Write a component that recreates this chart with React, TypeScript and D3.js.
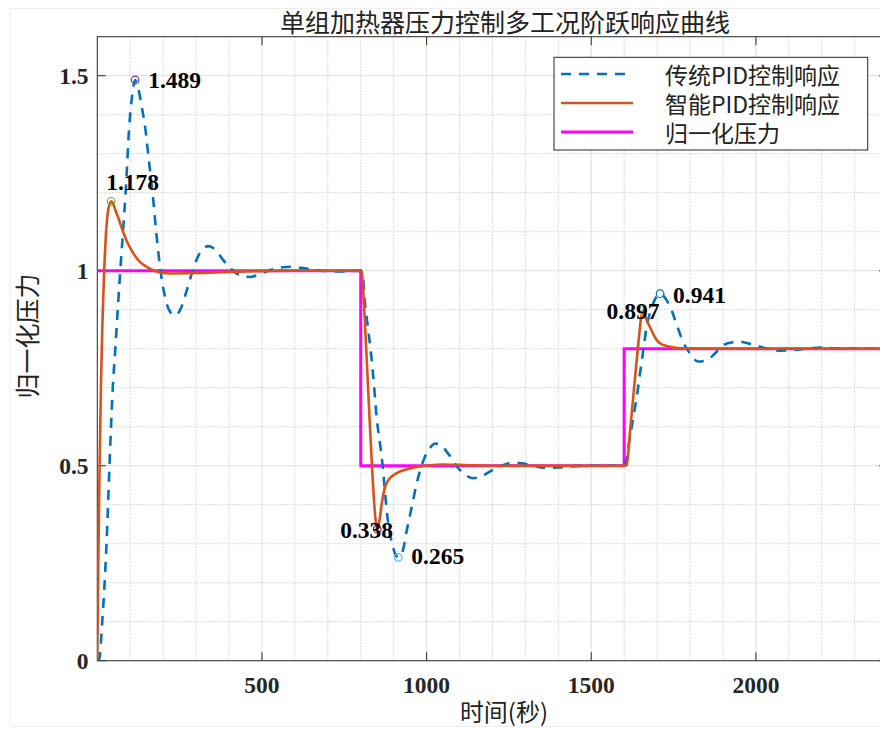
import React, { useEffect, useRef } from "react";
import * as d3 from "d3";

// 传统PID控制响应 (blue dashed)
const tradTime = [
  0, 6, 15, 28, 37, 47, 54, 62, 69, 78, 86, 97, 106, 115, 125, 135, 145, 157, 168, 180, 193, 205, 220, 236,
  252, 270, 287, 305, 320, 338, 360, 380, 400, 423, 444, 464, 490, 520, 555, 590, 630, 680, 740, 800, 806,
  812, 821, 830, 840, 848, 858, 867, 875, 881, 890, 900, 914, 927, 940, 955, 970, 983, 995, 1010, 1025,
  1045, 1061, 1071, 1086, 1101, 1120, 1142, 1165, 1192, 1220, 1253, 1280, 1304, 1330, 1354, 1385, 1415,
  1450, 1500, 1550, 1600, 1607, 1615, 1623, 1632, 1640, 1647, 1654, 1661, 1668, 1678, 1688, 1698, 1709,
  1720, 1732, 1744, 1756, 1769, 1780, 1792, 1808, 1825, 1848, 1871, 1886, 1901, 1925, 1952, 1980, 2013,
  2045, 2073, 2105, 2134, 2165, 2195, 2245, 2300, 2400,
];
const tradValue = [
  0, 0.005, 0.1, 0.3, 0.5, 0.7, 0.79, 0.9, 0.99, 1.1, 1.2, 1.37, 1.45, 1.489, 1.465, 1.42, 1.37, 1.28,
  1.198, 1.09, 0.993, 0.935, 0.896, 0.886, 0.9, 0.945, 0.993, 1.035, 1.055, 1.063, 1.052, 1.03, 1.01, 0.993,
  0.985, 0.984, 0.99, 1.0, 1.008, 1.01, 1.006, 1.0, 0.998, 1.0, 0.99, 0.925, 0.86, 0.797, 0.71, 0.626,
  0.56, 0.497, 0.42, 0.369, 0.32, 0.285, 0.265, 0.28, 0.335, 0.395, 0.455, 0.495, 0.523, 0.545, 0.557,
  0.552, 0.536, 0.525, 0.505, 0.489, 0.475, 0.468, 0.472, 0.485, 0.497, 0.506, 0.507, 0.504, 0.499, 0.495,
  0.495, 0.496, 0.499, 0.5, 0.5, 0.5, 0.515, 0.56, 0.6, 0.645, 0.686, 0.73, 0.771, 0.815, 0.856, 0.89,
  0.916, 0.933, 0.941, 0.935, 0.92, 0.899, 0.87, 0.839, 0.815, 0.798, 0.778, 0.767, 0.77, 0.784, 0.797,
  0.809, 0.816, 0.818, 0.813, 0.805, 0.798, 0.795, 0.796, 0.798, 0.801, 0.803, 0.801, 0.8, 0.8,
];

// 智能PID控制响应 (orange)
const smartTime = [
  0, 3, 7, 11, 15, 20, 26, 32, 38, 42, 48, 55, 64, 74, 90, 109, 130, 154, 180, 220, 300, 400, 500, 600,
  800, 803, 812, 820, 828, 836, 843, 850, 857, 864, 872, 884, 900, 919, 945, 970, 1000, 1050, 1100, 1200,
  1600, 1608, 1618, 1628, 1638, 1645, 1650, 1656, 1663, 1670, 1678, 1688, 1699, 1712, 1729, 1750, 1780,
  1850, 2400,
];
const smartValue = [
  0, 0.25, 0.5, 0.7, 0.85, 0.98, 1.09, 1.15, 1.172, 1.178, 1.172, 1.155, 1.135, 1.11, 1.075, 1.045, 1.022,
  1.008, 0.998, 0.993, 0.994, 0.997, 0.999, 1.0, 1.0, 0.995, 0.88, 0.74, 0.6, 0.47, 0.38, 0.338, 0.36,
  0.404, 0.44, 0.463, 0.476, 0.485, 0.492, 0.497, 0.5, 0.503, 0.502, 0.5, 0.5, 0.502, 0.59, 0.68, 0.77,
  0.83, 0.87, 0.897, 0.885, 0.87, 0.856, 0.838, 0.822, 0.812, 0.807, 0.803, 0.801, 0.8, 0.8,
];

// 归一化压力 (step setpoint)
const stepTime = [0, 800, 1600, 2400];
const stepValue = [1, 0.5, 0.8, 0.8];

// peak annotations
const peakTime = [115, 42, 850, 914, 1709, 1656];
const peakValue = [1.489, 1.178, 0.338, 0.265, 0.941, 0.897];
const peakLabel = ["1.489", "1.178", "0.338", "0.265", "0.941", "0.897"];
const peakColor = ["#7E2F8E", "#77AC30", "#A2142F", "#4DBEEE", "#0072BD", "#EDB120"];
const peakOffset = [
  [13, 0],
  [-5, -19],
  [-37, 1],
  [13, -1],
  [13, 1],
  [-36, 0],
];

const xTicks = [500, 1000, 1500, 2000];
const yTicks = [0, 0.5, 1, 1.5];
const legendLabels = ["传统PID控制响应", "智能PID控制响应", "归一化压力"];

const serif = "'Liberation Serif', 'Times New Roman', serif";
const cjk = "'Noto Sans CJK SC', sans-serif";

const App = () => {
  const ref = useRef<SVGSVGElement>(null);

  useEffect(() => {
    const svg = d3.select(ref.current);
    svg.selectAll("*").remove();

    const left = 97.3;
    const right = 887.6;
    const top = 36.7;
    const bottom = 660.7;

    const x = d3.scaleLinear().domain([0, 2400]).range([left, right]);
    const y = d3.scaleLinear().domain([0, 1.6]).range([bottom, top]);

    svg.append("rect").attr("width", 880).attr("height", 729).attr("fill", "white");
    svg
      .append("rect")
      .attr("x", 10)
      .attr("y", 8.5)
      .attr("width", 890)
      .attr("height", 718)
      .attr("fill", "none")
      .attr("stroke", "#eeeeee");

    svg
      .append("defs")
      .append("clipPath")
      .attr("id", "plot-clip")
      .append("rect")
      .attr("x", left)
      .attr("y", top)
      .attr("width", right - left)
      .attr("height", bottom - top);

    // grid
    const grid = svg.append("g");
    const xMinor = d3.range(100, 2400, 100).filter((d) => d % 500 !== 0);
    const yMinor = d3.range(1, 16).map((d) => d / 10).filter((d) => Math.abs(d * 2 - Math.round(d * 2)) > 1e-6);

    grid
      .selectAll(".xminor")
      .data(xMinor)
      .join("line")
      .attr("x1", (d) => x(d))
      .attr("x2", (d) => x(d))
      .attr("y1", top)
      .attr("y2", bottom)
      .attr("stroke", "#c4c4c4")
      .attr("stroke-width", 0.8)
      .attr("stroke-dasharray", "1.5,1.5");
    grid
      .selectAll(".yminor")
      .data(yMinor)
      .join("line")
      .attr("x1", left)
      .attr("x2", right)
      .attr("y1", (d) => y(d))
      .attr("y2", (d) => y(d))
      .attr("stroke", "#c4c4c4")
      .attr("stroke-width", 0.8)
      .attr("stroke-dasharray", "1.5,1.5");
    grid
      .selectAll(".xmajor")
      .data(xTicks)
      .join("line")
      .attr("x1", (d) => x(d))
      .attr("x2", (d) => x(d))
      .attr("y1", top)
      .attr("y2", bottom)
      .attr("stroke", "#dedede")
      .attr("stroke-width", 1);
    grid
      .selectAll(".ymajor")
      .data(yTicks.filter((d) => d > 0))
      .join("line")
      .attr("x1", left)
      .attr("x2", right)
      .attr("y1", (d) => y(d))
      .attr("y2", (d) => y(d))
      .attr("stroke", "#dedede")
      .attr("stroke-width", 1);

    // box + ticks
    const axisColor = "#3a3a3a";
    svg
      .append("rect")
      .attr("x", left)
      .attr("y", top)
      .attr("width", right - left)
      .attr("height", bottom - top)
      .attr("fill", "none")
      .attr("stroke", axisColor)
      .attr("stroke-width", 1.1);

    const ticks = svg.append("g").attr("stroke", axisColor).attr("stroke-width", 1.1);
    xTicks.forEach((t) => {
      ticks.append("line").attr("x1", x(t)).attr("x2", x(t)).attr("y1", bottom).attr("y2", bottom - 8.5);
      ticks.append("line").attr("x1", x(t)).attr("x2", x(t)).attr("y1", top).attr("y2", top + 8.5);
    });
    yTicks.forEach((t) => {
      ticks.append("line").attr("x1", left).attr("x2", left + 8.5).attr("y1", y(t)).attr("y2", y(t));
      ticks.append("line").attr("x1", right).attr("x2", right - 8.5).attr("y1", y(t)).attr("y2", y(t));
    });

    svg
      .append("g")
      .selectAll("text")
      .data(xTicks)
      .join("text")
      .attr("x", (d) => x(d))
      .attr("y", 685)
      .attr("text-anchor", "middle")
      .attr("dominant-baseline", "central")
      .style("font-family", serif)
      .style("font-weight", "bold")
      .style("font-size", "23.5px")
      .attr("fill", "#262626")
      .text((d) => d);

    svg
      .append("g")
      .selectAll("text")
      .data(yTicks)
      .join("text")
      .attr("x", 88.5)
      .attr("y", (d) => y(d))
      .attr("text-anchor", "end")
      .attr("dominant-baseline", "central")
      .style("font-family", serif)
      .style("font-weight", "bold")
      .style("font-size", "23.5px")
      .attr("fill", "#262626")
      .text((d) => d);

    // lines
    const plot = svg.append("g").attr("clip-path", "url(#plot-clip)");

    const line = d3
      .line<number>()
      .x((d) => x(d))
      .curve(d3.curveMonotoneX);

    plot
      .append("path")
      .attr("d", d3.line<number>().x((d, i) => x(stepTime[i])).y((d) => y(d)).curve(d3.curveStepAfter)(stepValue))
      .attr("fill", "none")
      .attr("stroke", "#FF00FF")
      .attr("stroke-width", 3);

    plot
      .append("path")
      .attr("d", line.x((d, i) => x(tradTime[i])).y((d) => y(d))(tradValue))
      .attr("fill", "none")
      .attr("stroke", "#0072BD")
      .attr("stroke-width", 2.6)
      .attr("stroke-dasharray", "10,8");

    plot
      .append("path")
      .attr("d", line.x((d, i) => x(smartTime[i])).y((d) => y(d))(smartValue))
      .attr("fill", "none")
      .attr("stroke", "#D95319")
      .attr("stroke-width", 2.6);

    // peak markers + labels
    const peaks = svg.append("g");
    peakTime.forEach((t, i) => {
      peaks
        .append("circle")
        .attr("cx", x(t))
        .attr("cy", y(peakValue[i]))
        .attr("r", 3.8)
        .attr("fill", "none")
        .attr("stroke", peakColor[i])
        .attr("stroke-width", 1.2);
      peaks
        .append("text")
        .attr("x", x(t) + peakOffset[i][0])
        .attr("y", y(peakValue[i]) + peakOffset[i][1])
        .attr("dominant-baseline", "central")
        .style("font-family", serif)
        .style("font-weight", "bold")
        .style("font-size", "23.5px")
        .attr("fill", "black")
        .text(peakLabel[i]);
    });

    // title & labels
    svg
      .append("text")
      .attr("x", 505)
      .attr("y", 21)
      .attr("text-anchor", "middle")
      .attr("dominant-baseline", "central")
      .style("font-family", cjk)
      .style("font-size", "25px")
      .attr("fill", "#222")
      .text("单组加热器压力控制多工况阶跃响应曲线");

    svg
      .append("text")
      .attr("transform", "translate(26,336) rotate(-90)")
      .attr("text-anchor", "middle")
      .attr("dominant-baseline", "central")
      .style("font-family", cjk)
      .style("font-size", "25px")
      .attr("fill", "#222")
      .text("归一化压力");

    svg
      .append("text")
      .attr("x", 504)
      .attr("y", 710)
      .attr("text-anchor", "middle")
      .attr("dominant-baseline", "central")
      .style("font-family", cjk)
      .style("font-size", "24px")
      .attr("fill", "#222")
      .text("时间(秒)");

    // legend
    const legend = svg.append("g");
    legend
      .append("rect")
      .attr("x", 554)
      .attr("y", 57.3)
      .attr("width", 313.7)
      .attr("height", 92.7)
      .attr("fill", "white")
      .attr("stroke", "#262626")
      .attr("stroke-width", 1);
    const legendColors = ["#0072BD", "#D95319", "#FF00FF"];
    const legendDash = ["10,8", null, null];
    const legendWidth = [2.6, 2.6, 3];
    legendLabels.forEach((label, i) => {
      const ly = 74 + i * 29;
      legend
        .append("line")
        .attr("x1", 561)
        .attr("x2", 633)
        .attr("y1", ly)
        .attr("y2", ly)
        .attr("stroke", legendColors[i])
        .attr("stroke-width", legendWidth[i])
        .attr("stroke-dasharray", legendDash[i]);
      legend
        .append("text")
        .attr("x", 665)
        .attr("y", ly)
        .attr("dominant-baseline", "central")
        .style("font-family", cjk)
        .style("font-size", "23px")
        .attr("fill", "#222")
        .text(label);
    });
  }, []);

  return (
    <svg
      ref={ref}
      width={880}
      height={729}
      style={{ position: "absolute", left: 0, top: 0, overflow: "hidden" }}
    />
  );
};

export default App;
